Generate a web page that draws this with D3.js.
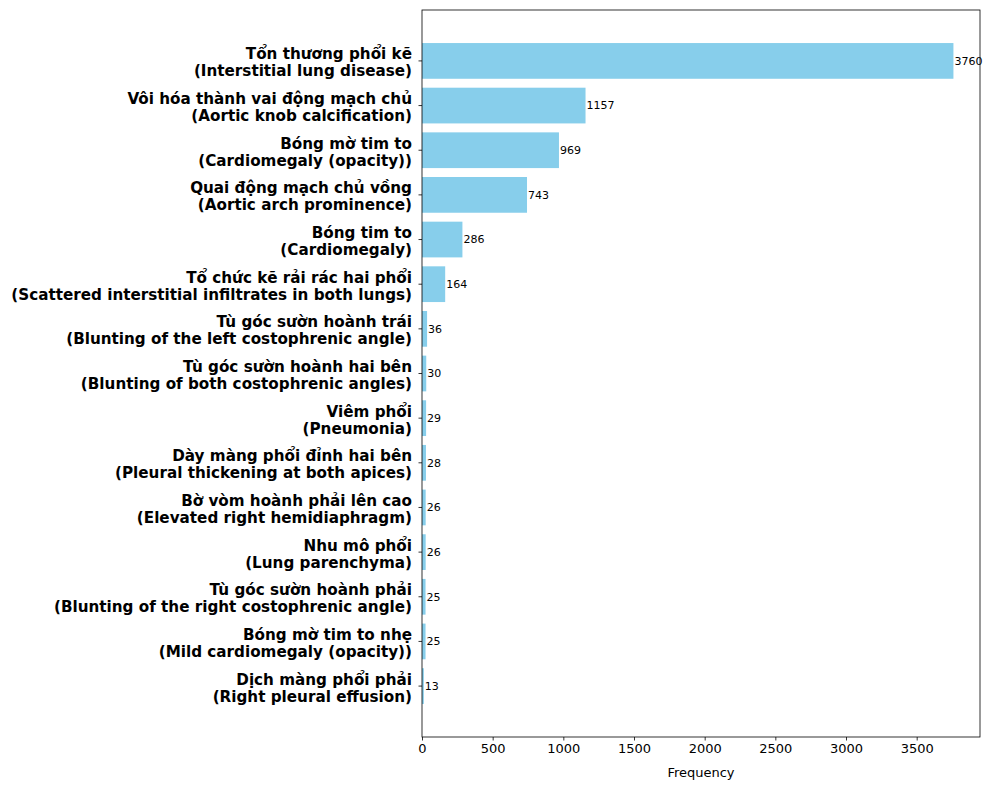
<!DOCTYPE html>
<html><head><meta charset="utf-8">
<script src="https://cdn.jsdelivr.net/npm/d3@7"></script>
<style>body{margin:0;background:#fff}svg{display:block;font-family:"DejaVu Sans",sans-serif}</style>
</head><body><svg id="c" width="991" height="790"></svg>
<script>
const labelsVi = ["Tổn thương phổi kẽ","Vôi hóa thành vai động mạch chủ","Bóng mờ tim to","Quai động mạch chủ vồng","Bóng tim to","Tổ chức kẽ rải rác hai phổi","Tù góc sườn hoành trái","Tù góc sườn hoành hai bên","Viêm phổi","Dày màng phổi đỉnh hai bên","Bờ vòm hoành phải lên cao","Nhu mô phổi","Tù góc sườn hoành phải","Bóng mờ tim to nhẹ","Dịch màng phổi phải"];
const labelsEn = ["(Interstitial lung disease)","(Aortic knob calcification)","(Cardiomegaly (opacity))","(Aortic arch prominence)","(Cardiomegaly)","(Scattered interstitial infiltrates in both lungs)","(Blunting of the left costophrenic angle)","(Blunting of both costophrenic angles)","(Pneumonia)","(Pleural thickening at both apices)","(Elevated right hemidiaphragm)","(Lung parenchyma)","(Blunting of the right costophrenic angle)","(Mild cardiomegaly (opacity))","(Right pleural effusion)"];
const counts = [3760,1157,969,743,286,164,36,30,29,28,26,26,25,25,13];
const xTicks = [0,500,1000,1500,2000,2500,3000,3500];

const svg = d3.select("#c");
const L = 422, R = 980, T = 10, B = 737;
const n = counts.length;
const x = d3.scaleLinear().domain([0, d3.max(counts)*1.05]).range([L, R]);
const y = d3.scaleLinear().domain([-1.14, n - 1 + 1.14]).range([T, B]);
const bh = y(0.4) - y(-0.4);

svg.append("g").selectAll("rect").data(counts).join("rect")
  .attr("x", x(0)).attr("y", (d,i)=>y(i)-bh/2)
  .attr("width", d=>x(d)-x(0)).attr("height", bh)
  .attr("fill", "#87CEEB");

svg.append("g").selectAll("text").data(counts).join("text")
  .attr("x", d=>x(d)+1).attr("y", (d,i)=>y(i))
  .attr("dy","0.35em").attr("font-size", 11).attr("fill","#000")
  .text(d=>d);

// x axis
const xa = svg.append("g").attr("transform",`translate(0,${B})`)
  .call(d3.axisBottom(x).tickValues(xTicks).tickSize(3.5).tickPadding(3.5).tickFormat(d3.format("d")));
xa.select(".domain").remove();
xa.selectAll("text").attr("font-size", 13).attr("font-family","DejaVu Sans").attr("fill","#000");
xa.selectAll("line").attr("stroke","#000").attr("stroke-width",0.8);

// y axis ticks
const ya = svg.append("g");
ya.selectAll("line").data(counts).join("line")
  .attr("x1", L-3.5).attr("x2", L).attr("y1",(d,i)=>y(i)).attr("y2",(d,i)=>y(i))
  .attr("stroke","#000").attr("stroke-width",0.8);
const lt = ya.selectAll("text").data(counts).join("text")
  .attr("x", L-10).attr("y",(d,i)=>y(i))
  .attr("text-anchor","end").attr("font-weight","bold").attr("font-size",15.2).attr("fill","#000");
lt.append("tspan").attr("x",L-10).attr("dy",-1.5).text((d,i)=>labelsVi[i]);
lt.append("tspan").attr("x",L-10).attr("dy",17).text((d,i)=>labelsEn[i]);

// frame
svg.append("rect").attr("x",L).attr("y",T).attr("width",R-L).attr("height",B-T)
  .attr("fill","none").attr("stroke","#000").attr("stroke-width",0.8);

svg.append("text").attr("x",(L+R)/2).attr("y",777).attr("text-anchor","middle")
  .attr("font-size",13).attr("fill","#000").text("Frequency");
</script></body></html>
